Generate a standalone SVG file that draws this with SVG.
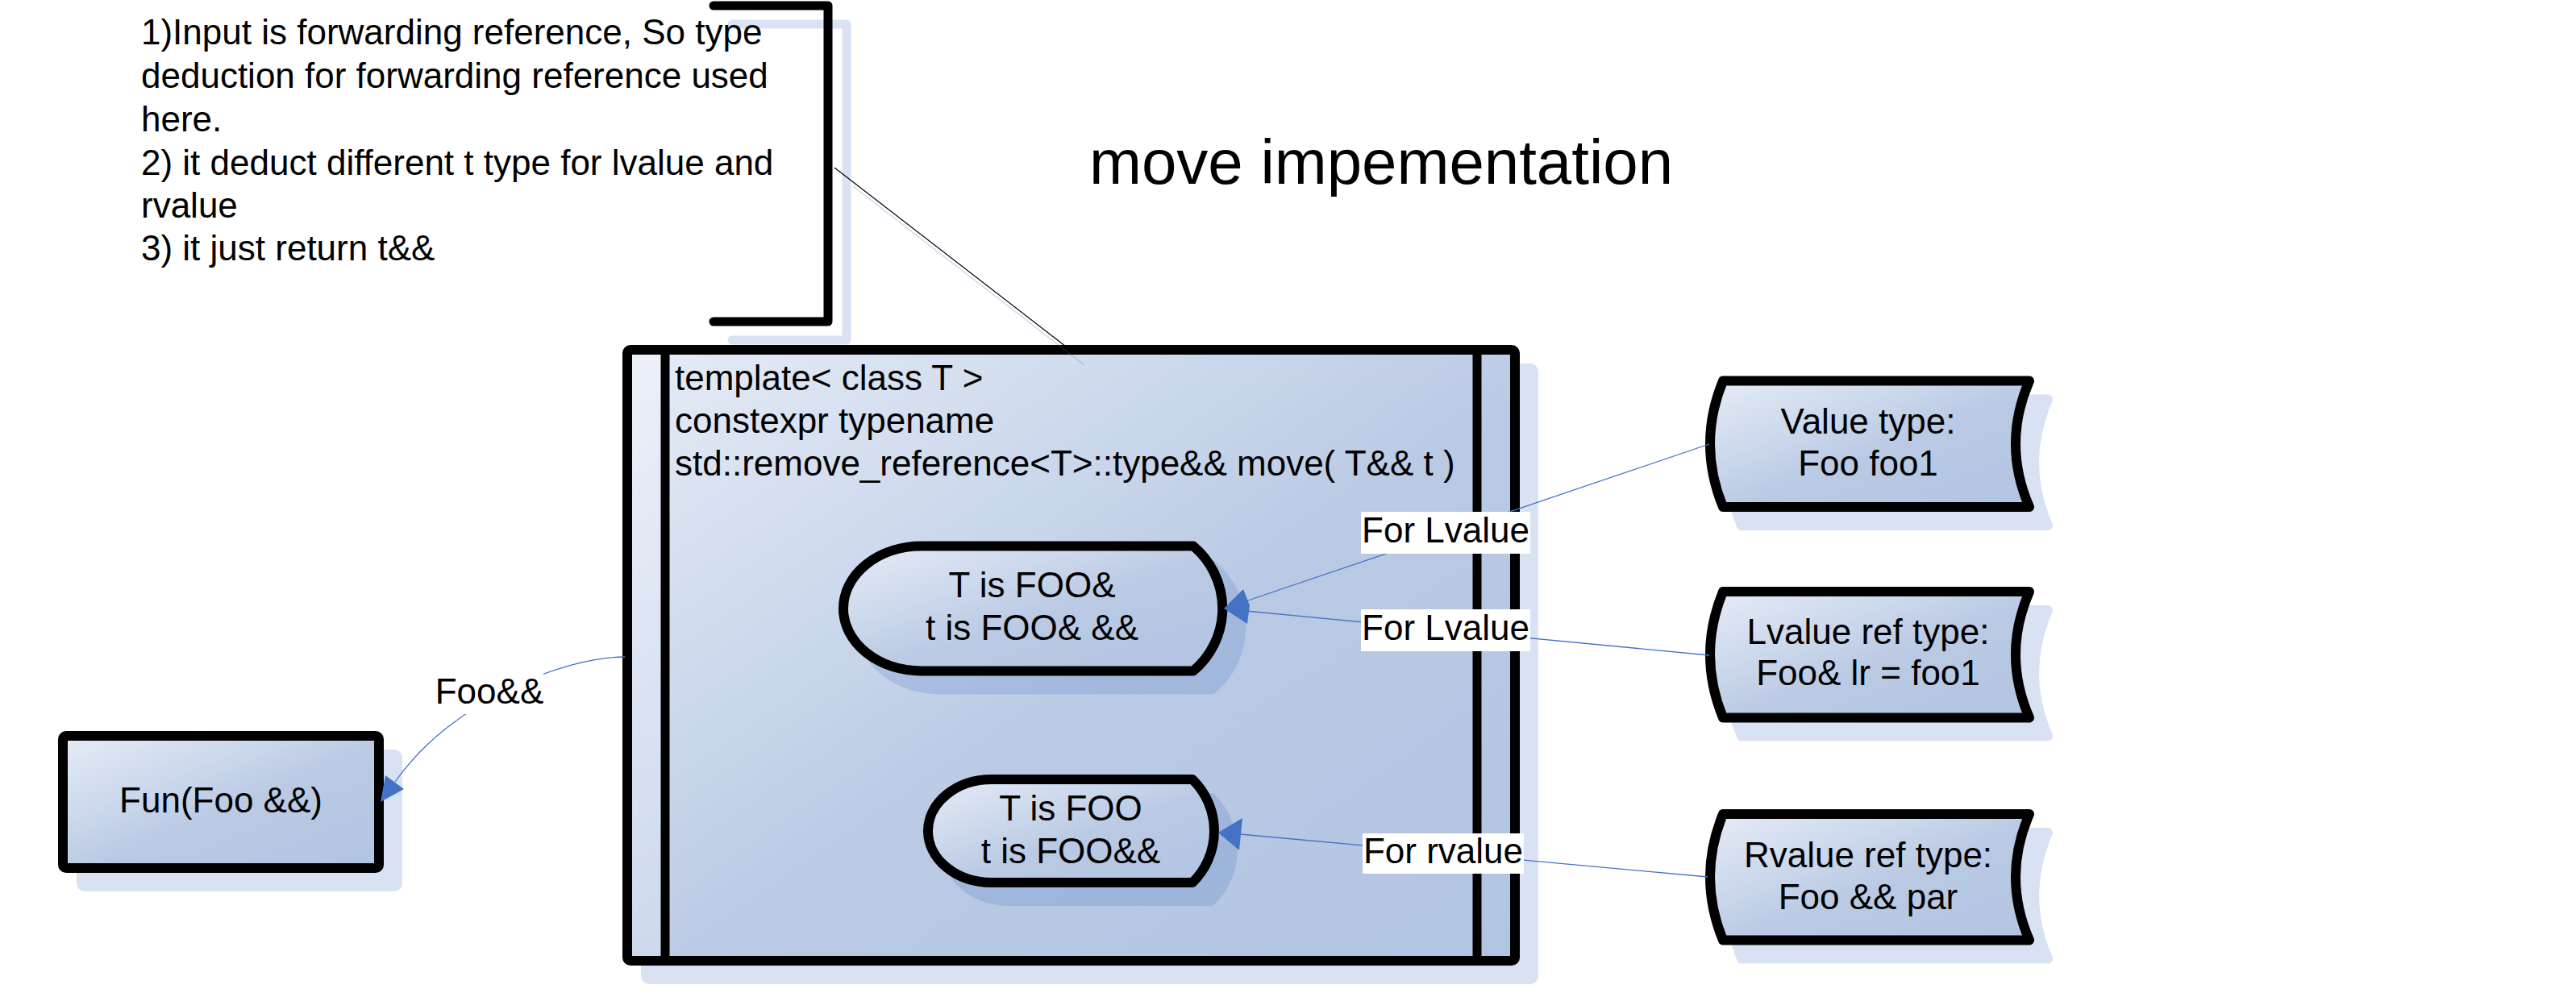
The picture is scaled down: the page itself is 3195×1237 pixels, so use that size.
<svg xmlns="http://www.w3.org/2000/svg" width="3195" height="1237" viewBox="0 0 3195 1237">
<defs>
<linearGradient id="g" x1="0" y1="0" x2="1" y2="1">
<stop offset="0" stop-color="#e6ecf7"/>
<stop offset="0.55" stop-color="#bacae4"/>
<stop offset="1" stop-color="#b1c4e1"/>
</linearGradient>
<style>
.t{font-family:"Liberation Sans",Arial,sans-serif;font-size:44px;fill:#000}
.c{text-anchor:middle}
.shape{fill:url(#g);stroke:#000;stroke-width:12;stroke-linejoin:round}
.sh{fill:#4472c4;stroke:#4472c4;stroke-width:12;stroke-linejoin:round;opacity:0.2}
.conn{fill:none;stroke:#4472c4;stroke-width:1.3}
.ah{fill:#4472c4}
.lbl{fill:#fff}
</style>
<path id="sd" d="M16,0 H396 Q362,78.25 396,156.5 H16 Q-16,78.25 16,0 Z"/>
</defs>
<rect width="3195" height="1237" fill="#fff"/>

<g id="annotation">
<path d="M885,7 H1027 V399 H885" fill="none" stroke="#4472c4" stroke-opacity="0.2" stroke-width="11" stroke-linecap="round" stroke-linejoin="round" transform="translate(23,23)"/>
<path d="M885,7 H1027 V399 H885" fill="none" stroke="#000" stroke-width="11" stroke-linecap="round" stroke-linejoin="round"/>
<text class="t" x="175" y="55">1)Input is forwarding reference, So type</text>
<text class="t" x="175" y="109">deduction for forwarding reference used</text>
<text class="t" x="175" y="163">here.</text>
<text class="t" x="175" y="217">2) it deduct different t type for lvalue and</text>
<text class="t" x="175" y="270">rvalue</text>
<text class="t" x="175" y="323">3) it just return t&amp;&amp;</text>
</g>

<g id="title">
<text class="t" x="1351" y="228" style="font-size:78px">move impementation</text>
</g>

<g id="move-box">
<rect class="sh" x="801" y="457" width="1101" height="758" rx="4"/>
<rect class="shape" x="778" y="434" width="1101" height="758" rx="4"/>
<rect x="784" y="440" width="41" height="746" fill="#fff" opacity="0.25"/>
<line x1="825" y1="434" x2="825" y2="1192" stroke="#000" stroke-width="11"/>
<line x1="1832" y1="434" x2="1832" y2="1192" stroke="#000" stroke-width="11"/>
<text class="t" x="837" y="484">template&lt; class T &gt;</text>
<text class="t" x="837" y="537">constexpr typename</text>
<text class="t" x="837" y="590">std::remove_reference&lt;T&gt;::type&amp;&amp; move( T&amp;&amp; t )</text>
</g>

<g id="lvalue-result">
<path class="sh" transform="translate(23,23)" d="M1143,677.5 H1480 A101,101 0 0 1 1480,832.5 H1143 A97,77.5 0 0 1 1143,677.5 Z"/>
<path class="shape" d="M1143,677.5 H1480 A101,101 0 0 1 1480,832.5 H1143 A97,77.5 0 0 1 1143,677.5 Z"/>
<text class="t c" x="1280" y="741">T is FOO&amp;</text>
<text class="t c" x="1280" y="794">t is FOO&amp; &amp;&amp;</text>
</g>

<g id="rvalue-result">
<path class="sh" transform="translate(23,23)" d="M1230,967 H1479 A89.4,89.4 0 0 1 1479,1095 H1230 A79,64 0 0 1 1230,967 Z"/>
<path class="shape" d="M1230,967 H1479 A89.4,89.4 0 0 1 1479,1095 H1230 A79,64 0 0 1 1230,967 Z"/>
<text class="t c" x="1328" y="1018">T is FOO</text>
<text class="t c" x="1328" y="1071">t is FOO&amp;&amp;</text>
</g>

<g id="fun">
<rect class="sh" x="101" y="936" width="392" height="164" rx="4"/>
<rect class="shape" x="78" y="913" width="392" height="164" rx="4"/>
<text class="t c" x="274" y="1008">Fun(Foo &amp;&amp;)</text>
</g>

<g id="value-type">
<use href="#sd" class="sh" x="2144" y="495.5"/>
<use href="#sd" class="shape" x="2121" y="472.5"/>
<text class="t c" x="2317" y="538">Value type:</text>
<text class="t c" x="2317" y="590">Foo foo1</text>
</g>

<g id="lvalue-ref-type">
<use href="#sd" class="sh" x="2144" y="757"/>
<use href="#sd" class="shape" x="2121" y="734"/>
<text class="t c" x="2317" y="799">Lvalue ref type:</text>
<text class="t c" x="2317" y="850">Foo&amp; lr = foo1</text>
</g>

<g id="rvalue-ref-type">
<use href="#sd" class="sh" x="2144" y="1033"/>
<use href="#sd" class="shape" x="2121" y="1010"/>
<text class="t c" x="2317" y="1076">Rvalue ref type:</text>
<text class="t c" x="2317" y="1128">Foo &amp;&amp; par</text>
</g>

<g id="connectors">
<line x1="1058" y1="231" x2="1345" y2="453" stroke="#4472c4" stroke-opacity="0.25" stroke-width="1.5"/>
<line x1="1035" y1="208" x2="1322" y2="430" stroke="#000" stroke-width="1.2"/>
<path class="conn" d="M775,815 C700,815 560,870 490,970"/>
<polygon class="ah" points="501,979 478,962 472,995"/>
<rect class="lbl" x="540" y="834" width="134" height="52"/>
<text class="t c" x="607" y="873">Foo&amp;&amp;</text>

<line class="conn" x1="2120" y1="551" x2="1545" y2="746"/>
<line class="conn" x1="2120" y1="813" x2="1545" y2="758"/>
<polygon class="ah" points="1518,755 1542,731 1550,751 1547,774"/>
<line class="conn" x1="2118" y1="1088" x2="1538" y2="1035"/>
<polygon class="ah" points="1511,1033 1541,1015 1537,1055"/>

<rect class="lbl" x="1688" y="635" width="210" height="52"/>
<text class="t c" x="1793" y="673">For Lvalue</text>
<rect class="lbl" x="1688" y="756" width="210" height="52"/>
<text class="t c" x="1793" y="794">For Lvalue</text>
<rect class="lbl" x="1690" y="1034" width="200" height="50"/>
<text class="t c" x="1790" y="1071">For rvalue</text>
</g>
</svg>
